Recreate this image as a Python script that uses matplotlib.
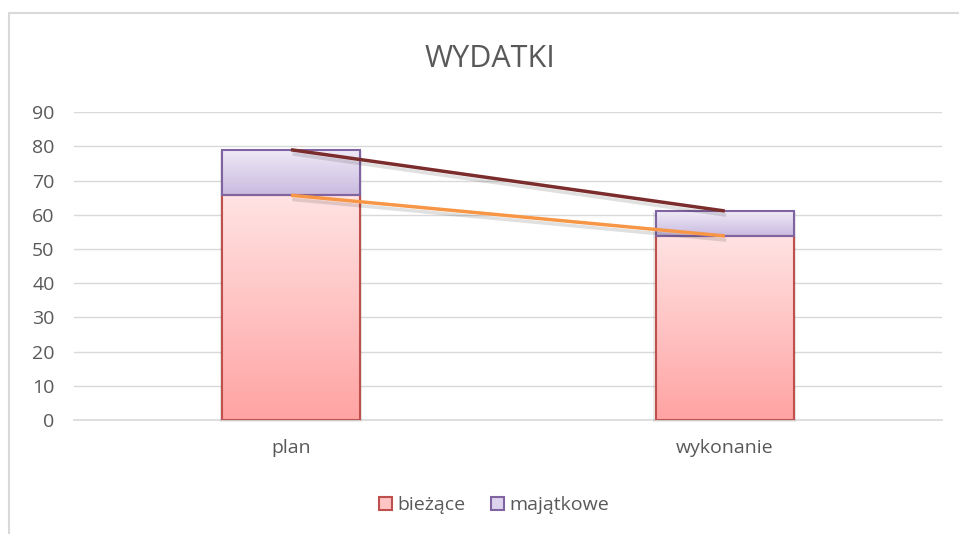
import numpy as np
import matplotlib.pyplot as plt
from matplotlib.patches import Patch, Rectangle
from matplotlib.colors import LinearSegmentedColormap
import matplotlib.patheffects as pe

# dane
categories = ['plan', 'wykonanie']
biezace = [65.7, 53.8]
majatkowe = [13.3, 7.3]
yticks = [0, 10, 20, 30, 40, 50, 60, 70, 80, 90]

plt.rcParams['font.family'] = ['Open Sans', 'DejaVu Sans']
txt = '#595959'

fig = plt.figure(figsize=(9.59, 5.34), dpi=100)
ax = fig.add_axes([0.0772, 0.2135, 0.9048, 0.5765])

x = np.arange(len(categories))
w = 0.317
tops = np.array(biezace) + np.array(majatkowe)

cm_b = LinearSegmentedColormap.from_list('b', ['#ffa3a3', '#ffe3e3'])
cm_m = LinearSegmentedColormap.from_list('m', ['#c9badf', '#efeaf7'])
grad = np.linspace(0, 1, 256).reshape(-1, 1)

for i in range(len(categories)):
    segs = [(0, biezace[i], cm_b, '#c0504d'), (biezace[i], tops[i], cm_m, '#8064a2')]
    for y0, y1, cm, ec in segs:
        # cien
        ax.add_patch(Rectangle((x[i] - w / 2 - 0.006, y0 - 0.6), w + 0.012, y1 - y0 + 0.2,
                               fc='#000000', alpha=0.08, lw=0, zorder=2, clip_on=False))
        ax.imshow(grad, extent=[x[i] - w / 2, x[i] + w / 2, y0, y1], origin='lower',
                  aspect='auto', cmap=cm, zorder=3)
        ax.add_patch(Rectangle((x[i] - w / 2, y0), w, y1 - y0, fill=False, ec=ec, lw=1.5, zorder=4))

# linie serii
shadow = [pe.SimpleLineShadow(offset=(1, -3), alpha=0.12, rho=0.3), pe.Normal()]
ax.plot(x, tops, color='#7b2c2c', lw=2.5, zorder=5, path_effects=shadow, solid_capstyle='butt')
ax.plot(x, biezace, color='#f79646', lw=2.5, zorder=5, path_effects=shadow, solid_capstyle='butt')

ax.set_xlim(-0.5, 1.5)
ax.set_ylim(0, 90)
ax.set_yticks(yticks)
ax.set_xticks(x)
ax.set_xticklabels(categories)
ax.grid(axis='y', color='#d9d9d9', lw=1, zorder=0)
ax.axhline(0, color='#d9d9d9', lw=1.2, zorder=1, clip_on=False)
ax.set_axisbelow(True)
for s in ax.spines.values():
    s.set_visible(False)
ax.tick_params(length=0, colors=txt, labelsize=14)
ax.tick_params(axis='y', pad=14)
ax.tick_params(axis='x', pad=14)

fig.text(0.511, 0.89, 'WYDATKI', ha='center', va='center', fontsize=22, color=txt)

handles = [Patch(fc='#ffc4c4', ec='#c0504d', lw=1.5), Patch(fc='#ddd3ee', ec='#8064a2', lw=1.5)]
fig.legend(handles, ['bieżące', 'majątkowe'], loc='center', bbox_to_anchor=(0.515, 0.054),
           ncol=2, frameon=False, fontsize=14, labelcolor=txt, handlelength=0.7, handleheight=0.7,
           handletextpad=0.25, columnspacing=1.3)

# ramka wykresu (ucieta z prawej i od dolu)
fig.add_artist(Rectangle((9 / 959, -0.1), 1.2, 1 - 13 / 534 + 0.1, transform=fig.transFigure,
                         fill=False, ec='#d9d9d9', lw=1.5))

fig.savefig('out.png', dpi=100)
